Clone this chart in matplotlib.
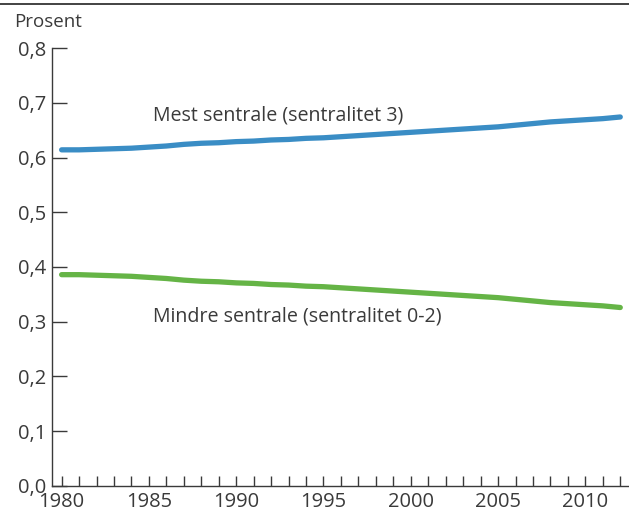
import numpy as np
import matplotlib.pyplot as plt
from matplotlib.lines import Line2D

plt.rcParams['font.family'] = ['Open Sans', 'DejaVu Sans']

# andel av befolkningen
years = list(range(1980, 2013))
mest = [0.614, 0.614, 0.615, 0.616, 0.617, 0.619, 0.621, 0.624, 0.626, 0.627,
        0.629, 0.630, 0.632, 0.633, 0.635, 0.636, 0.638, 0.640, 0.642, 0.644,
        0.646, 0.648, 0.650, 0.652, 0.654, 0.656, 0.659, 0.662, 0.665, 0.667,
        0.669, 0.671, 0.674]
mindre = [0.386, 0.386, 0.385, 0.384, 0.383, 0.381, 0.379, 0.376, 0.374, 0.373,
          0.371, 0.370, 0.368, 0.367, 0.365, 0.364, 0.362, 0.360, 0.358, 0.356,
          0.354, 0.352, 0.350, 0.348, 0.346, 0.344, 0.341, 0.338, 0.335, 0.333,
          0.331, 0.329, 0.326]
yticks = [0.0, 0.1, 0.2, 0.3, 0.4, 0.5, 0.6, 0.7, 0.8]
xlabels = [1980, 1985, 1990, 1995, 2000, 2005, 2010]

txt = '#3a3a3a'
fig = plt.figure(figsize=(6.29, 5.19), dpi=100)
ax = fig.add_axes([0.0827, 0.0636, 0.9173, 0.8439])

ax.plot(years, mest, color='#3a8dc5', lw=3.8, solid_capstyle='round')
ax.plot(years, mindre, color='#65b446', lw=3.8, solid_capstyle='round')

ax.set_xlim(1979.45, 2012.5)
ax.set_ylim(0, 0.8)
for s in ['top', 'right']:
    ax.spines[s].set_visible(False)
for s in ['left', 'bottom']:
    ax.spines[s].set_color(txt)
    ax.spines[s].set_linewidth(1.0)

ax.set_yticks(yticks)
ax.set_yticklabels([f'{v:.1f}'.replace('.', ',') for v in yticks])
ax.tick_params(axis='y', direction='in', length=11, width=1, color=txt,
               labelsize=14.5, labelcolor=txt, pad=4)
ax.set_xticks(years, minor=True)
ax.set_xticks(xlabels)
ax.set_xticklabels([str(x) for x in xlabels])
ax.tick_params(axis='x', which='both', direction='in', length=7, width=1,
               color=txt, labelsize=14.5, labelcolor=txt, pad=4.5)

ax.text(1985.25, 0.676, 'Mest sentrale (sentralitet 3)', fontsize=14.1,
        color=txt, va='center')
ax.text(1985.25, 0.309, 'Mindre sentrale (sentralitet 0-2)', fontsize=14.1,
        color=txt, va='center')
fig.text(0.022, 0.957, 'Prosent', fontsize=13.5, color=txt, va='center')

fig.add_artist(Line2D([0, 1], [0.992, 0.992], color='#222222', lw=1.2))

fig.savefig('out.png', dpi=100)
